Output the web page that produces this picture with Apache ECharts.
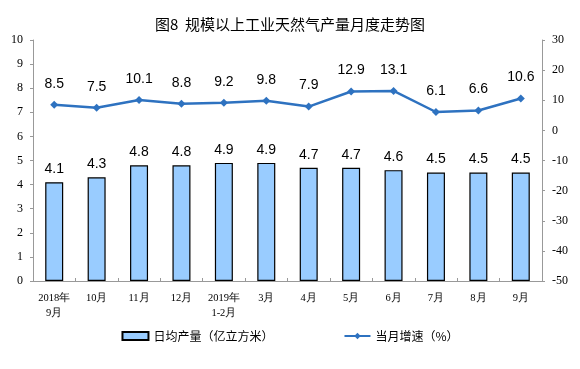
<!DOCTYPE html>
<html><head><meta charset="utf-8">
<script src="https://cdn.jsdelivr.net/npm/echarts@6/dist/echarts.min.js"></script>
<style>html,body{margin:0;padding:0;background:#fff}#c{width:580px;height:369px}</style>
</head><body><div id="c"></div>
<script>
var categories = ['2018年\n9月','10月','11月','12月','2019年\n1-2月','3月','4月','5月','6月','7月','8月','9月'];
var dailyOutput = [4.1,4.3,4.8,4.8,4.9,4.9,4.7,4.7,4.6,4.5,4.5,4.5];
var monthGrowth = [8.5,7.5,10.1,8.8,9.2,9.8,7.9,12.9,13.1,6.1,6.6,10.6];
var leftTicks = {min:0,max:10,interval:1};
var rightTicks = {min:-50,max:30,interval:10};
var seriesNames = ['日均产量（亿立方米）','当月增速（%）'];
var titleText = '图8  规模以上工业天然气产量月度走势图';

var chart = echarts.init(document.getElementById('c'));
var serif = '"Liberation Serif","Times New Roman",serif';
var sans = '"Noto Sans CJK SC","Noto Sans",sans-serif';
chart.setOption({
  animation:false,
  title:{text:titleText,left:'center',top:12,textStyle:{fontFamily:sans,fontSize:15,fontWeight:'normal',color:'#000'}},
  grid:{left:33,right:38,top:40,bottom:88},
  legend:{bottom:22,left:'center',itemGap:70,itemWidth:26,itemHeight:8,
    textStyle:{fontFamily:sans,fontSize:12,color:'#000'},
    data:[{name:seriesNames[0],icon:'rect'},{name:seriesNames[1]}]},
  xAxis:{type:'category',data:categories,
    axisLine:{lineStyle:{color:'#999'}},
    axisTick:{show:true,inside:true,length:3,lineStyle:{color:'#999'}},
    axisLabel:{interval:0,fontFamily:serif,fontSize:10.5,color:'#000',margin:10,lineHeight:15}},
  yAxis:[
    {type:'value',min:leftTicks.min,max:leftTicks.max,interval:leftTicks.interval,
     axisLine:{show:true,lineStyle:{color:'#999'}},axisTick:{show:true,length:3,lineStyle:{color:'#999'}},
     splitLine:{show:false},axisLabel:{fontFamily:serif,fontSize:12,color:'#000',margin:10}},
    {type:'value',min:rightTicks.min,max:rightTicks.max,interval:rightTicks.interval,
     axisLine:{show:true,lineStyle:{color:'#999'}},axisTick:{show:true,length:3,lineStyle:{color:'#999'}},
     splitLine:{show:false},axisLabel:{fontFamily:serif,fontSize:12,color:'#000',margin:10}}
  ],
  series:[
    {name:seriesNames[0],type:'bar',data:dailyOutput,barWidth:18,yAxisIndex:0,
     itemStyle:{color:'#99CCFF',borderColor:'#000',borderWidth:1.2},
     label:{show:true,position:'top',distance:6,fontFamily:'"Liberation Sans",Arial,sans-serif',fontSize:14,color:'#000'}},
    {name:seriesNames[1],type:'line',data:monthGrowth,yAxisIndex:1,
     symbol:'diamond',symbolSize:8,
     lineStyle:{color:'#2E72C0',width:2.5},itemStyle:{color:'#2E72C0'},
     label:{show:true,position:'top',distance:10,fontFamily:'"Liberation Sans",Arial,sans-serif',fontSize:14,color:'#000'}}
  ]
});
</script></body></html>
